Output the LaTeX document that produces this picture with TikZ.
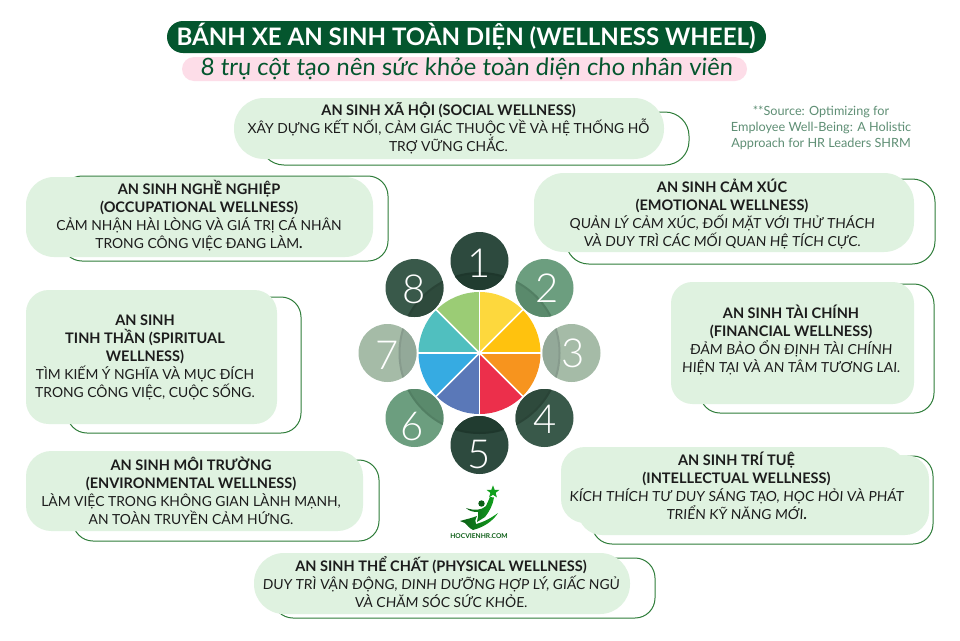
\documentclass[tikz,border=0pt]{standalone}
\usepackage{fontspec}
\setmainfont{Lato}
\newfontfamily\digitfont{Lato Light}
\newfontfamily\slantfont[FakeSlant=0.06]{Lato}
\usetikzlibrary{shapes.geometric}
\definecolor{boxfill}{HTML}{DFF2E0}
\definecolor{boxline}{HTML}{2F7D3A}
\definecolor{titlegreen}{HTML}{04562E}
\definecolor{subpink}{HTML}{FDDDE8}
\definecolor{sourcegreen}{HTML}{5F8F75}
\definecolor{inktext}{HTML}{1C1C1C}
\definecolor{petalA}{HTML}{2D4A3E}
\definecolor{petalB}{HTML}{6C9E7F}
\definecolor{petalC}{HTML}{A5BBA7}
\definecolor{petalD}{HTML}{39594A}
\definecolor{cresA}{HTML}{213C30}
\definecolor{cresB}{HTML}{5A8A6C}
\definecolor{cresC}{HTML}{93A999}
\definecolor{cresD}{HTML}{2E4A3C}
\definecolor{logoA}{HTML}{12A01E}
\definecolor{logoB}{HTML}{0C5E16}
\tikzset{
  outlinebox/.style={draw=boxline,line width=0.75pt,fill=white,rounded corners=#1},
  fillbox/.style={fill=boxfill,rounded corners=#1},
  wellnesstext/.style={align=center,text=inktext,inner sep=0pt,font=\fontsize{10.4pt}{13.5pt}\selectfont},
  sourcetext/.style={align=center,text=sourcegreen,inner sep=0pt,font=\fontsize{9.5pt}{12pt}\selectfont},
  digit/.style={text=white,inner sep=0pt,font=\digitfont\fontsize{30pt}{30pt}\selectfont}
}
\newcommand{\bt}[1]{{\bfseries\fontsize{10.9pt}{13.5pt}\selectfont #1}}
\newcommand{\petal}[4]{%
  \fill[#3] (#1,#2) circle[radius=29];
  \begin{scope}
    \clip (#1,#2) circle[radius=29];
    \fill[#4] (479.5,353) circle[radius=81];
    \draw[black,opacity=.08,line width=1.5pt] (479.5,353) circle[radius=80];
  \end{scope}
}
\begin{document}
\begin{tikzpicture}[x=0.75pt,y=-0.75pt]
\useasboundingbox (0,0) rectangle (960,640);
\fill[white] (0,0) rectangle (960,640);
% title
\fill[titlegreen,rounded corners=12pt] (167,21) rectangle (766,53);
\node[text=white,inner sep=0pt,font=\bfseries\fontsize{18.05pt}{20pt}\selectfont] (title) at (466,37) {BÁNH XE AN SINH TOÀN DIỆN (WELLNESS WHEEL)};
\fill[subpink,rounded corners=9pt] (182,57) rectangle (747,81);
\node[text=titlegreen,inner sep=0pt,font=\slantfont\fontsize{17.9pt}{20pt}\selectfont] (subtitle) at (466.5,69) {8 trụ cột tạo nên sức khỏe toàn diện cho nhân viên};
\node[sourcetext] (source) at (821,128) {**Source: Optimizing for\\Employee Well-Being: A Holistic\\Approach for HR Leaders SHRM};
% social
\draw[outlinebox=18pt] (260,112) rectangle (689,165);
\fill[fillbox=22.5pt] (234,98) rectangle (664,159);
\node[wellnesstext] (social) at (448.5,128.5) {\bt{AN SINH XÃ HỘI (SOCIAL WELLNESS)}\\XÂY DỰNG KẾT NỐI, CẢM GIÁC THUỘC VỀ VÀ HỆ THỐNG HỖ\\TRỢ VỮNG CHẮC.};
% occupational
\draw[outlinebox=15pt] (62,176) rectangle (388,261);
\fill[fillbox=21pt] (26,177) rectangle (373,257);
\node[wellnesstext] (occupational) at (199,216) {\bt{AN SINH NGHỀ NGHIỆP}\\\bt{(OCCUPATIONAL WELLNESS)}\\CẢM NHẬN HÀI LÒNG VÀ GIÁ TRỊ CÁ NHÂN\\TRONG CÔNG VIỆC ĐANG LÀM\bt{.}};
% emotional
\draw[outlinebox=17pt] (566,179) rectangle (935,264);
\fill[fillbox=22.5pt] (534,173) rectangle (914,252);
\node[wellnesstext] (emotional) at (722,213.5) {\bt{AN SINH CẢM XÚC}\\\bt{(EMOTIONAL WELLNESS)}\\\slantfont QUẢN LÝ CẢM XÚC, ĐỐI MẶT VỚI THỬ THÁCH\\\slantfont VÀ DUY TRÌ CÁC MỐI QUAN HỆ TÍCH CỰC.};
% financial
\draw[outlinebox=15pt] (700,284) rectangle (934,413);
\fill[fillbox=16pt] (671,282) rectangle (914,404);
\node[wellnesstext] (financial) at (791,340) {\bt{AN SINH TÀI CHÍNH}\\\bt{(FINANCIAL WELLNESS)}\\\slantfont ĐẢM BẢO ỔN ĐỊNH TÀI CHÍNH\\\slantfont HIỆN TẠI VÀ AN TÂM TƯƠNG LAI.};
% spiritual
\draw[outlinebox=15pt] (67,297) rectangle (301,433);
\fill[fillbox=17pt] (26,290) rectangle (277,424);
\node[wellnesstext] (spiritual) at (145,357) {\bt{AN SINH}\\\bt{TINH THẦN (SPIRITUAL}\\\bt{WELLNESS)}\\TÌM KIẾM Ý NGHĨA VÀ MỤC ĐÍCH\\TRONG CÔNG VIỆC, CUỘC SỐNG.};
% intellectual
\draw[outlinebox=15pt] (592,456) rectangle (933,544);
\fill[fillbox=18pt] (561,447) rectangle (906,523);
\fill[fillbox=18pt] (578,455) rectangle (929,535);
\node[wellnesstext] (intellectual) at (736.5,485.5) {\bt{AN SINH TRÍ TUỆ}\\\bt{(INTELLECTUAL WELLNESS)}\\\slantfont KÍCH THÍCH TƯ DUY SÁNG TẠO, HỌC HỎI VÀ PHÁT\\\slantfont TRIỂN KỸ NĂNG MỚI\bt{.}};
% environmental
\draw[outlinebox=15pt] (73,460) rectangle (379,541);
\fill[fillbox=19pt] (26,451) rectangle (363,531);
\node[wellnesstext] (environmental) at (191,490.5) {\bt{AN SINH MÔI TRƯỜNG}\\\bt{(ENVIRONMENTAL WELLNESS)}\\LÀM VIỆC TRONG KHÔNG GIAN LÀNH MẠNH,\\AN TOÀN TRUYỀN CẢM HỨNG.};
% physical
\draw[outlinebox=15pt] (273,558) rectangle (655,618);
\fill[fillbox=22.5pt] (254,553) rectangle (630,614);
\node[wellnesstext] (physical) at (441,582.5) {\bt{AN SINH THỂ CHẤT (PHYSICAL WELLNESS)}\\\slantfont DUY TRÌ VẬN ĐỘNG, DINH DƯỠNG HỢP LÝ, GIẤC NGỦ\\\slantfont VÀ CHĂM SÓC SỨC KHỎE.};
% wheel slices
\def\cx{479.5}\def\cy{353}
\foreach \i/\c in {0/FDD83D,1/FFC20E,2/F7941E,3/EC2F4B,4/5A78B8,5/36ABE2,6/50BFBF,7/9BCC75}{
  \definecolor{slicecol}{HTML}{\c}
  \pgfmathsetmacro{\aa}{90-45*\i}
  \pgfmathsetmacro{\ab}{90-45*(\i+1)}
  \fill[slicecol] (\cx,\cy) -- ++({61*cos(\aa)},{-61*sin(\aa)}) arc[start angle=-\aa,end angle=-\ab,radius=61] -- cycle;
}
\foreach \i in {0,...,7}{
  \pgfmathsetmacro{\aa}{45*\i}
  \draw[white,line width=1.3pt] (\cx,\cy) -- ++({62*cos(\aa)},{-62*sin(\aa)});
}
\fill[white] (\cx,\cy) circle[radius=2.5];
% petals
\petal{479.5}{261}{petalA}{cresA}
\petal{544.5}{288}{petalB}{cresB}
\petal{571.5}{353}{petalC}{cresC}
\petal{544.5}{418}{petalD}{cresD}
\petal{479.5}{445}{petalA}{cresA}
\petal{414.5}{418}{petalB}{cresB}
\petal{387.5}{353}{petalC}{cresC}
\petal{414.5}{288}{petalD}{cresD}
\node[digit] (d1) at (479,263) {1};
\node[digit] (d2) at (547,288) {2};
\node[digit] (d3) at (573,353) {3};
\node[digit] (d4) at (545,419) {4};
\node[digit] (d5) at (479,454) {5};
\node[digit] (d6) at (412,427) {6};
\node[digit] (d7) at (387,355) {7};
\node[digit] (d8) at (414,289) {8};
% logo
\node[star,star points=5,star point ratio=2.4,fill=logoA,inner sep=0pt,minimum size=10pt] (logostar) at (493,492) {};
\fill[logoB] (481.5,503.5) circle[radius=3.2];
\shade[left color=logoB,right color=logoA] (466,508) .. controls (475,511) and (482,510) .. (486,506) -- (490,497) -- (494,497.5) .. controls (493,505) and (489,512) .. (485,517) -- (477,522) .. controls (478,516) and (479,514) .. (478,512) .. controls (473,512) and (469,511) .. cycle;
\shade[left color=logoB,right color=logoA] (460,521) .. controls (467,519) and (472,518) .. (477,516) .. controls (475,520) and (475,522) .. (476,524) .. controls (484,522) and (491,518) .. (498,513) .. controls (493,521) and (484,527) .. (473,530) .. controls (469,528) and (467,525) .. (465,523) -- cycle;
\node[text=logoB,inner sep=0pt,font=\bfseries\fontsize{5pt}{5pt}\selectfont] (logotext) at (479,536) {HOCVIENHR.COM};
\end{tikzpicture}
\end{document}
